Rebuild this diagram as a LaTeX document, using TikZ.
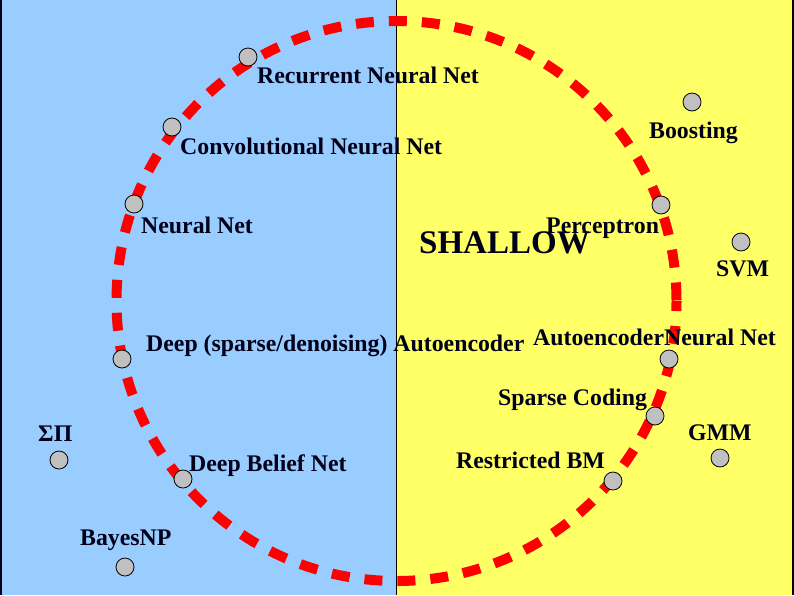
\documentclass[tikz,border=0pt]{standalone}
\usepackage{fontspec}
\setmainfont{Liberation Serif}
\definecolor{bgblue}{HTML}{99CCFF}
\definecolor{bgyellow}{HTML}{FFFF66}
\definecolor{dotgray}{HTML}{C0C0C0}
\definecolor{ink}{HTML}{000018}
\begin{document}
\begin{tikzpicture}[x=1pt,y=-1pt,
  dot/.style={circle,draw=black,line width=0.8pt,fill=dotgray,minimum size=18pt,inner sep=0pt},
  lbl/.style={anchor=base west,inner sep=0pt,text=ink,font=\fontsize{23.8}{26}\selectfont\bfseries},
  bigl/.style={anchor=base west,inner sep=0pt,text=ink,font=\fontsize{33}{36}\selectfont\bfseries},
  ring/.style={draw=red,line width=10pt,dash pattern=on 18pt off 15pt}]
\useasboundingbox (0,0) rectangle (794,595);
\fill[bgblue] (0,0) rectangle (396.5,595);
\fill[bgyellow] (396.5,0) rectangle (794,595);
\draw[line width=1pt,black] (396.5,0) -- (396.5,595);
\draw[line width=2.5pt,ink] (1,0) -- (1,595);
\draw[line width=2.5pt,black] (793,0) -- (793,595);
\draw[ring,dash phase=8pt] (396.5,301) circle[radius=280];
% dots
\node[dot] (rnn) at (248,57) {};
\node[dot] (cnn) at (172,127) {};
\node[dot] (nn) at (134,204) {};
\node[dot] (dae) at (122,359) {};
\node[dot] (sp) at (59,460) {};
\node[dot] (dbn) at (183,479) {};
\node[dot] (bnp) at (125,567) {};
\node[dot] (boost) at (692,102) {};
\node[dot] (perc) at (661,205) {};
\node[dot] (svm) at (741,242) {};
\node[dot] (aenn) at (669,359) {};
\node[dot] (sc) at (655,416) {};
\node[dot] (gmm) at (720,458) {};
\node[dot] (rbm) at (613,481) {};
% labels
\node[lbl] (trnn) at (257,83) {Recurrent Neural Net};
\node[lbl] (tcnn) at (180,154) {Convolutional Neural Net};
\node[lbl] (tnn) at (141,233) {Neural Net};
\node[lbl] (tdae) at (146,351) {Deep (sparse/denoising) Autoencoder};
\node[lbl] (tsp) at (38,441) {ΣΠ};
\node[lbl] (tdbn) at (189,471) {Deep Belief Net};
\node[lbl] (tbnp) at (80,545) {BayesNP};
\node[lbl] (tboost) at (649,138) {Boosting};
\node[bigl] (tshallow) at (419,253) {SHALLOW};
\node[lbl] (tperc) at (546,233) {Perceptron};
\node[lbl] (tsvm) at (716,276) {SVM};
\node[lbl] (taenn) at (533,345) {AutoencoderNeural Net};
\node[lbl] (tsc) at (498,405) {Sparse Coding};
\node[lbl] (tgmm) at (688,440) {GMM};
\node[lbl] (trbm) at (456,468) {Restricted BM};
\end{tikzpicture}
\end{document}
